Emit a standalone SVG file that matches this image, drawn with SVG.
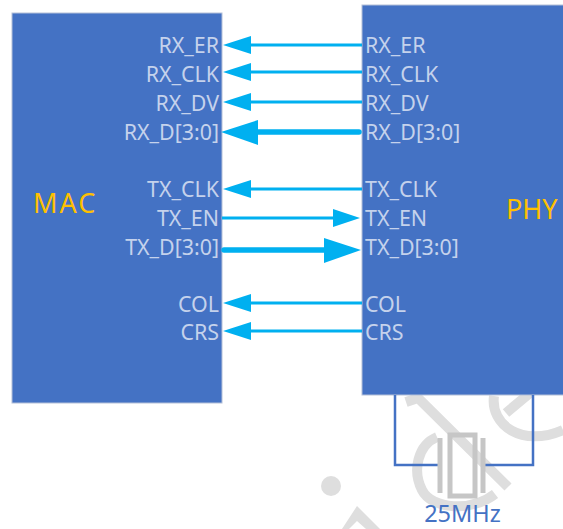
<svg xmlns="http://www.w3.org/2000/svg" width="563" height="529" viewBox="0 0 563 529">
<style>
text{font-family:"Noto Sans","Open Sans","Liberation Sans",sans-serif}
.box{fill:#4472c4;stroke:#b4c0d8;stroke-width:1}
.sig{fill:#c5d2ec;font-size:21.4px}
.r{text-anchor:end}
.title{fill:#ffc000;font-size:27px}
.thin{stroke:#00b0f0;stroke-width:3;fill:none}
.thick{stroke:#00b0f0;stroke-width:5.5;fill:none;stroke-linecap:round}
.head{fill:#00b0f0;stroke:none}
.wm{fill:none;stroke:#dedede;stroke-width:10}
.wire{fill:none;stroke:#4472c4;stroke-width:2.5}
.xtal{fill:none;stroke:#c6c6c6;stroke-width:5}
</style>
<g id="watermark">
<path class="wm" d="M406 402L418 398L508 487"/>
<path class="wm" d="M494 396C490 425 522 448 563 430"/>
<path class="wm" d="M506 413L530 393"/>
<path class="wm" d="M437 437C418 445 412 470 422 490C432 510 472 512 495 494"/>
<circle cx="331" cy="486" r="10" fill="#dedede"/>
<path d="M357 506L380 529L366 529L357 521L349 529L342 529Z" fill="#dedede"/>
</g>
<g id="mac">
<rect class="box" x="12" y="13" width="210" height="390"/>
<text class="title" x="33" y="213" letter-spacing="2">MAC</text>
<text class="sig r" x="219" y="52.500">RX_ER</text>
<text class="sig r" x="219" y="81.500">RX_CLK</text>
<text class="sig r" x="219" y="110.500">RX_DV</text>
<text class="sig r" x="219" y="139.500">RX_D[3:0]</text>
<text class="sig r" x="219" y="196.500">TX_CLK</text>
<text class="sig r" x="219" y="225.500">TX_EN</text>
<text class="sig r" x="219" y="254.500">TX_D[3:0]</text>
<text class="sig r" x="219" y="311.500">COL</text>
<text class="sig r" x="219" y="339.500">CRS</text>
</g>
<g id="phy">
<rect class="box" x="362" y="5" width="203" height="390"/>
<text class="title" x="506" y="219">PHY</text>
<text class="sig" x="365" y="52.500">RX_ER</text>
<text class="sig" x="365" y="81.500">RX_CLK</text>
<text class="sig" x="365" y="110.500">RX_DV</text>
<text class="sig" x="365" y="139.500">RX_D[3:0]</text>
<text class="sig" x="365" y="196.500">TX_CLK</text>
<text class="sig" x="365" y="225.500">TX_EN</text>
<text class="sig" x="365" y="254.500">TX_D[3:0]</text>
<text class="sig" x="365" y="311.500">COL</text>
<text class="sig" x="365" y="339.500">CRS</text>
</g>
<g id="connectors">
<path class="thin" d="M362 45H250"/><path class="head" d="M223 45L251 36V54Z"/>
<path class="thin" d="M362 72H250"/><path class="head" d="M223 72L251 63V81Z"/>
<path class="thin" d="M362 102H250"/><path class="head" d="M223 102L251 93V111Z"/>
<path class="thick" d="M359 132H255"/><path class="head" d="M221 132L258 120V145Z"/>
<path class="thin" d="M362 189H250"/><path class="head" d="M223 189L251 180V198Z"/>
<path class="thin" d="M222 218H335"/><path class="head" d="M360 218L333 209V227Z"/>
<path class="thick" d="M224 250H328"/><path class="head" d="M361 250L324 238V263Z"/>
<path class="thin" d="M362 303H250"/><path class="head" d="M223 303L251 294V312Z"/>
<path class="thin" d="M362 331H250"/><path class="head" d="M223 331L251 322V340Z"/>
</g>
<g id="crystal">
<path class="wire" d="M395 395V465H441"/>
<path class="wire" d="M533 395V465H483"/>
<path class="xtal" d="M440 438V493"/>
<path class="xtal" d="M483 438V493"/>
<rect class="xtal" x="450" y="435" width="25" height="61"/>
<text x="462.500" y="522" font-size="23.500" fill="#4472c4" text-anchor="middle">25MHz</text>
</g>
</svg>
